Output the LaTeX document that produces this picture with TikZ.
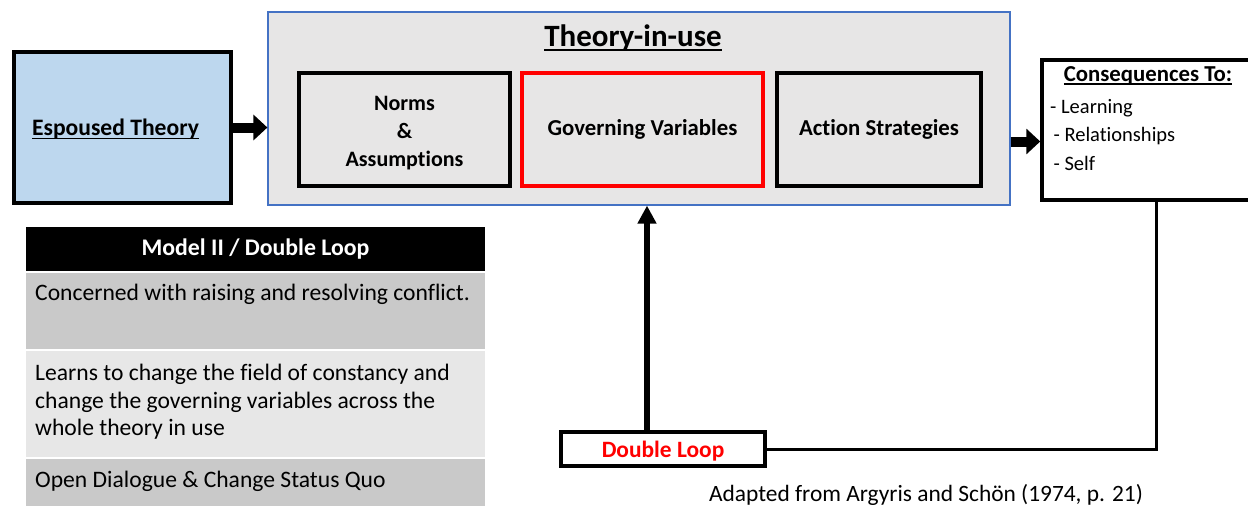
\documentclass[tikz,border=0pt]{standalone}
\usepackage{fontspec}
\setmainfont{Carlito}[Ligatures = NoCommon]
\usetikzlibrary{arrows.meta, positioning, calc}

\definecolor{espblue}{HTML}{BDD7EE}
\definecolor{tiufill}{HTML}{E7E6E6}
\definecolor{tiuline}{HTML}{4472C4}
\definecolor{rowdark}{HTML}{C9C9C9}
\definecolor{rowlight}{HTML}{E7E7E7}

\newsavebox{\ulbox}
\newcommand{\undertext}[1]{\sbox{\ulbox}{#1}\rlap{\rule[-0.14em]{\wd\ulbox}{0.07em}}\usebox{\ulbox}}

\tikzset{
	box/.style = {draw, line width = 3.5pt, fill = white, inner sep = 0pt, align = center,
		font = \bfseries\fontsize{22.8}{28}\selectfont},
	bigarrow/.style = {line width = 10pt, -{Triangle[length = 14pt, width = 25pt]}},
	looparrow/.style = {line width = 5.5pt, -{Triangle[length = 18pt, width = 18pt]}},
	loopline/.style = {line width = 3pt},
	tablerow/.style = {inner sep = 0pt, minimum width = 459, outer sep = 0pt},
	rowtext/.style = {inner sep = 0pt, anchor = north west, align = left,
		font = \fontsize{23.6}{27.5}\selectfont}
}

\begin{document}
\begin{tikzpicture}[x = 1pt, y = -1pt]

	\useasboundingbox (0, 0) rectangle (1248, 506);

	% Espoused theory
	
	\node [box, fill = espblue, minimum width = 217, minimum height = 151] (esp) at (122.5, 127.5) {};
	\node [font = \bfseries\fontsize{23.6}{28}\selectfont] (esptext) at ([xshift = -7pt, yshift = -2pt] esp.center) {\undertext{Espoused Theory}};
	
	% Theory-in-use
	
	\node [draw = tiuline, line width = 1.2pt, fill = tiufill, minimum width = 742, minimum height = 193] (tiu) at (639, 108.5) {};
	\node [font = \bfseries\fontsize{31}{36}\selectfont] (tiutitle) at (633, 38) {\undertext{Theory-in-use}};
	
	\node [box, fill = tiufill, minimum width = 211, minimum height = 113] (norms) at (404.5, 129.5) {};
	\node [align = center, inner sep = 0pt, font = \bfseries\fontsize{22}{28}\selectfont] (normstext) at ([yshift = -4pt] norms.center) {Norms\\\&\\Assumptions};
	\node [box, fill = tiufill, draw = red, minimum width = 241, minimum height = 113] (govvar) at (642.5, 129.5) {Governing Variables};
	\node [box, fill = tiufill, minimum width = 204, minimum height = 113] (action) at (879, 129.5) {Action Strategies};
	
	% Consequences
	
	\node [box, minimum width = 218, minimum height = 140] (cons) at (1151, 130) {};
	\node [font = \bfseries\fontsize{22.8}{27}\selectfont] (constitle) at (1148, 76) {\undertext{Consequences To:}};
	\node [rowtext, font = \fontsize{20.5}{28.5}\selectfont] (conslist) at (1050, 99) {- Learning\\\,- Relationships\\\,- Self};
	
	% Double loop
	
	\node [box, minimum width = 204, minimum height = 34, text depth = 0pt, text = red, font = \bfseries\fontsize{23.4}{27}\selectfont] (dloop) at (663, 449) {Double Loop};
	\coordinate (looptop) at (647,0 |- tiu.south);
	
	% Arrows
	
	\draw [bigarrow] (esp.east) -- (esp.east -| tiu.west);
	\draw [bigarrow] ([yshift = -33pt] tiu.east) -- ([yshift = -33pt] tiu.east -| cons.west);
	\draw [looparrow] (dloop.north -| looptop) -- (looptop);
	\draw [loopline] ([xshift = 5pt] cons.south) |- (dloop.east);
	
	% Model II table
	
	\node [tablerow, fill = black, minimum height = 44, text = white, font = \bfseries\fontsize{23.8}{27}\selectfont] (header) at (255.5, 249) {Model II / Double Loop};
	\node [tablerow, fill = rowdark, minimum height = 76, below = 2pt of header] (row1) {};
	\node [tablerow, fill = rowlight, minimum height = 106, below = 2pt of row1] (row2) {};
	\node [tablerow, fill = rowdark, minimum height = 48, below = 2pt of row2] (row3) {};
	
	\node [rowtext] (text1) at ([xshift = 9pt, yshift = -11pt] row1.north west) {Concerned with raising and resolving conflict.};
	\node [rowtext] (text2) at ([xshift = 9pt, yshift = -13pt] row2.north west) {Learns to change the field of constancy and\\change the governing variables across the\\whole theory in use};
	\node [rowtext] (text3) at ([xshift = 9pt, yshift = -12pt] row3.north west) {Open Dialogue \& Change Status Quo};
	
	% Source
	
	\node [font = \fontsize{23.4}{27}\selectfont] (source) at (926, 495) {Adapted from Argyris and Schön (1974, p. 21)};

\end{tikzpicture}
\end{document}
